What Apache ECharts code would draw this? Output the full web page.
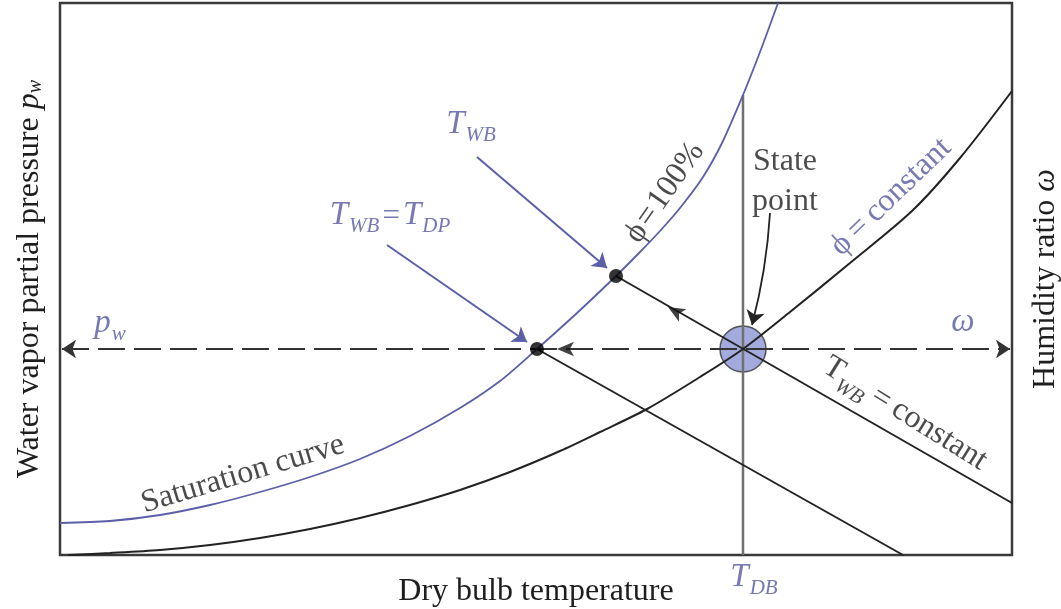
<!DOCTYPE html>
<html>
<head>
<meta charset="utf-8">
<script src="https://cdn.jsdelivr.net/npm/echarts@6/dist/echarts.min.js"></script>
<style>
  html, body { margin: 0; padding: 0; background: #fff; }
  #chart { width: 1061px; height: 609px; }
</style>
</head>
<body>
<div id="chart"></div>
<script>
// Schematic psychrometric chart, arbitrary units:
// x = dry bulb temperature, y = water vapour partial pressure / humidity ratio
const X_MAX = 952;
const Y_MAX = 552;

// phi = 100 % (saturation curve)
const saturationCurve = [
  [0, 32], [50, 34], [100, 40], [150, 50], [200, 63], [250, 78], [300, 96],
  [350, 119], [400, 147], [440, 174], [477, 206], [517, 242], [556, 279],
  [580, 303], [600, 324], [620, 347], [643, 378], [662, 412], [683, 460],
  [700, 503], [718, 552]
];
// phi = constant curve through the state point
const constantPhiCurve = [
  [8, 0], [50, 2], [100, 5], [150, 10], [200, 17], [250, 26], [300, 37],
  [350, 50], [400, 65], [450, 83], [500, 104], [540, 123], [587, 146],
  [640, 178], [683, 206], [730, 243], [790, 292], [853, 345], [900, 397],
  [952, 464]
];

const statePoint = [683, 206];
const wetBulbPoint = [556, 279];
const dewPointPoint = [477, 206];

// straight construction lines
const wetBulbLine = [[556, 279], [952, 52]];
const dewPointLine = [[477, 206], [843, 0]];
const dryBulbLine = [[683, 0], [683, 460]];
const vaporPressureLine = [[2, 206], [950, 206]];

// pointer arrows (from, to)
const wetBulbPointer = [[417, 398], [547, 287]];
const dewPointPointer = [[327, 310], [467, 213]];
const statePointer = [[710, 342], [692, 230]];

// arrowheads sitting on the construction lines: [x, y, direction in degrees]
const lineArrowHeads = [[608, 248, 60], [497, 206, 90]];

const BLUE = '#55589f';
const BLUE_LINE = '#5b5fa8';
const INK = '#1e1e1e';
const SERIF = '"Liberation Serif", "Times New Roman", serif';

// text labels: [x, y, rich text, rotation]
const labels = [
  [411, 427, '{t|T}{s|WB}', 0],
  [330, 336, '{t|T}{s|WB}{e|=}{t|T}{s|DP}', 0],
  [608, 360, '{k|ϕ\u200a=\u200a100%}', 55],
  [725, 369, '{k|State}\n{k|point}', 0],
  [831, 358, '{b|ϕ\u2009=\u2009constant}', 44],
  [843, 138, '{k|T}{ks|WB}{k|\u2009=\u2009constant}', -32],
  [184, 77, '{k|Saturation curve}', 16.7],
  [50, 228, '{t|p}{s|w}', 0],
  [903, 229, '{t|ω}', 0],
  [694, -26, '{t|T}{s|DB}', 0]
];

const richStyles = {
  t: { fontFamily: SERIF, fontStyle: 'italic', fontSize: 33, color: BLUE, verticalAlign: 'top', lineHeight: 40 },
  s: { fontFamily: SERIF, fontStyle: 'italic', fontSize: 21, color: BLUE, verticalAlign: 'top', padding: [17, 0, 0, 1], lineHeight: 40 },
  e: { fontFamily: SERIF, fontSize: 31, color: BLUE, verticalAlign: 'top', padding: [2, 3, 0, 3], lineHeight: 40 },
  k: { fontFamily: SERIF, fontSize: 32, color: INK, lineHeight: 40, verticalAlign: 'top' },
  ks: { fontFamily: SERIF, fontStyle: 'italic', fontSize: 21, color: INK, verticalAlign: 'top', padding: [17, 0, 0, 0], lineHeight: 40 },
  b: { fontFamily: SERIF, fontSize: 32, color: BLUE, lineHeight: 40 }
};

const chart = echarts.init(document.getElementById('chart'), null, { renderer: 'canvas' });

function segment(pair) {
  return { coords: pair };
}

const hiddenAxisParts = {
  axisLine: { show: false }, axisTick: { show: false },
  axisLabel: { show: false }, splitLine: { show: false }
};

chart.setOption({
  animation: false,
  backgroundColor: '#fff',
  grid: {
    left: 60, right: 49, top: 3, bottom: 54,
    outerBoundsMode: 'none', containLabel: false,
    show: true, borderColor: '#3a3a3a', borderWidth: 2.5, backgroundColor: '#fff'
  },
  xAxis: Object.assign({
    type: 'value', min: 0, max: X_MAX,
    name: 'Dry bulb temperature', nameLocation: 'middle', nameGap: 21,
    nameTextStyle: { fontFamily: SERIF, fontSize: 32, color: INK }
  }, hiddenAxisParts),
  yAxis: [
    Object.assign({
      type: 'value', min: 0, max: Y_MAX, position: 'left',
      name: 'Water vapor partial pressure {p|p}{w|w}', nameLocation: 'middle', nameGap: 14, nameRotate: 90,
      nameTextStyle: {
        fontFamily: SERIF, fontSize: 32, color: INK,
        rich: {
          p: { fontFamily: SERIF, fontStyle: 'italic', fontSize: 32, color: INK },
          w: { fontFamily: SERIF, fontStyle: 'italic', fontSize: 20, color: INK, padding: [12, 0, 0, 0] }
        }
      }
    }, hiddenAxisParts),
    Object.assign({
      type: 'value', min: 0, max: Y_MAX, position: 'right',
      name: 'Humidity ratio {o|ω}', nameLocation: 'middle', nameGap: 18, nameRotate: 90,
      nameTextStyle: {
        fontFamily: SERIF, fontSize: 32, color: INK,
        rich: { o: { fontFamily: SERIF, fontStyle: 'italic', fontSize: 32, color: INK } }
      }
    }, hiddenAxisParts)
  ],
  series: [
    {
      name: 'State point',
      type: 'scatter', z: 2,
      symbol: 'circle', symbolSize: 46,
      itemStyle: { color: '#8c96d6', borderColor: '#333', borderWidth: 1.5 },
      data: [statePoint]
    },
    {
      name: 'Dry bulb',
      type: 'line', z: 3, showSymbol: false,
      lineStyle: { color: '#707070', width: 2.5 },
      data: dryBulbLine
    },
    {
      name: 'phi = 100%',
      type: 'line', z: 3, smooth: 0.3, showSymbol: false,
      lineStyle: { color: BLUE_LINE, width: 1.8 },
      data: saturationCurve
    },
    {
      name: 'phi = constant',
      type: 'line', z: 3, smooth: 0.3, showSymbol: false,
      lineStyle: { color: '#222', width: 2 },
      data: constantPhiCurve
    },
    {
      name: 'Wet bulb line',
      type: 'line', z: 3, showSymbol: false,
      lineStyle: { color: '#222', width: 2 },
      data: wetBulbLine
    },
    {
      name: 'Dew point line',
      type: 'line', z: 3, showSymbol: false,
      lineStyle: { color: '#222', width: 2 },
      data: dewPointLine
    },
    {
      name: 'Vapor pressure / humidity ratio',
      type: 'lines', coordinateSystem: 'cartesian2d', z: 3,
      symbol: ['arrow', 'arrow'], symbolSize: 14,
      lineStyle: { color: '#333', width: 2, type: [27, 9], opacity: 1 },
      data: [segment(vaporPressureLine)]
    },
    {
      name: 'Pointers blue',
      type: 'lines', coordinateSystem: 'cartesian2d', z: 4,
      symbol: ['none', 'arrow'], symbolSize: 14,
      lineStyle: { color: BLUE_LINE, width: 2, opacity: 1 },
      data: [segment(wetBulbPointer), segment(dewPointPointer)]
    },
    {
      name: 'State pointer',
      type: 'lines', coordinateSystem: 'cartesian2d', z: 4,
      symbol: ['none', 'arrow'], symbolSize: 14,
      lineStyle: { color: '#222', width: 1.8, opacity: 1, curveness: 0.05 },
      data: [segment(statePointer)]
    },
    {
      name: 'Line arrowheads',
      type: 'scatter', z: 5,
      symbol: 'arrow', symbolSize: [11, 17],
      itemStyle: { color: '#111' },
      data: lineArrowHeads.map(a => ({ value: [a[0], a[1]], symbolRotate: a[2] }))
    },
    {
      name: 'Dew & wet bulb points',
      type: 'scatter', z: 5,
      symbol: 'circle', symbolSize: 14,
      itemStyle: { color: '#000' },
      data: [wetBulbPoint, dewPointPoint]
    },
    {
      name: 'Labels',
      type: 'scatter', z: 6, clip: false,
      symbolSize: 0, silent: true,
      data: labels.map(l => ({
        value: [l[0], l[1]],
        label: {
          show: true, position: 'inside', align: 'center', verticalAlign: 'middle',
          rotate: l[3], formatter: l[2], rich: richStyles
        }
      }))
    }
  ]
});
</script>
</body>
</html>
